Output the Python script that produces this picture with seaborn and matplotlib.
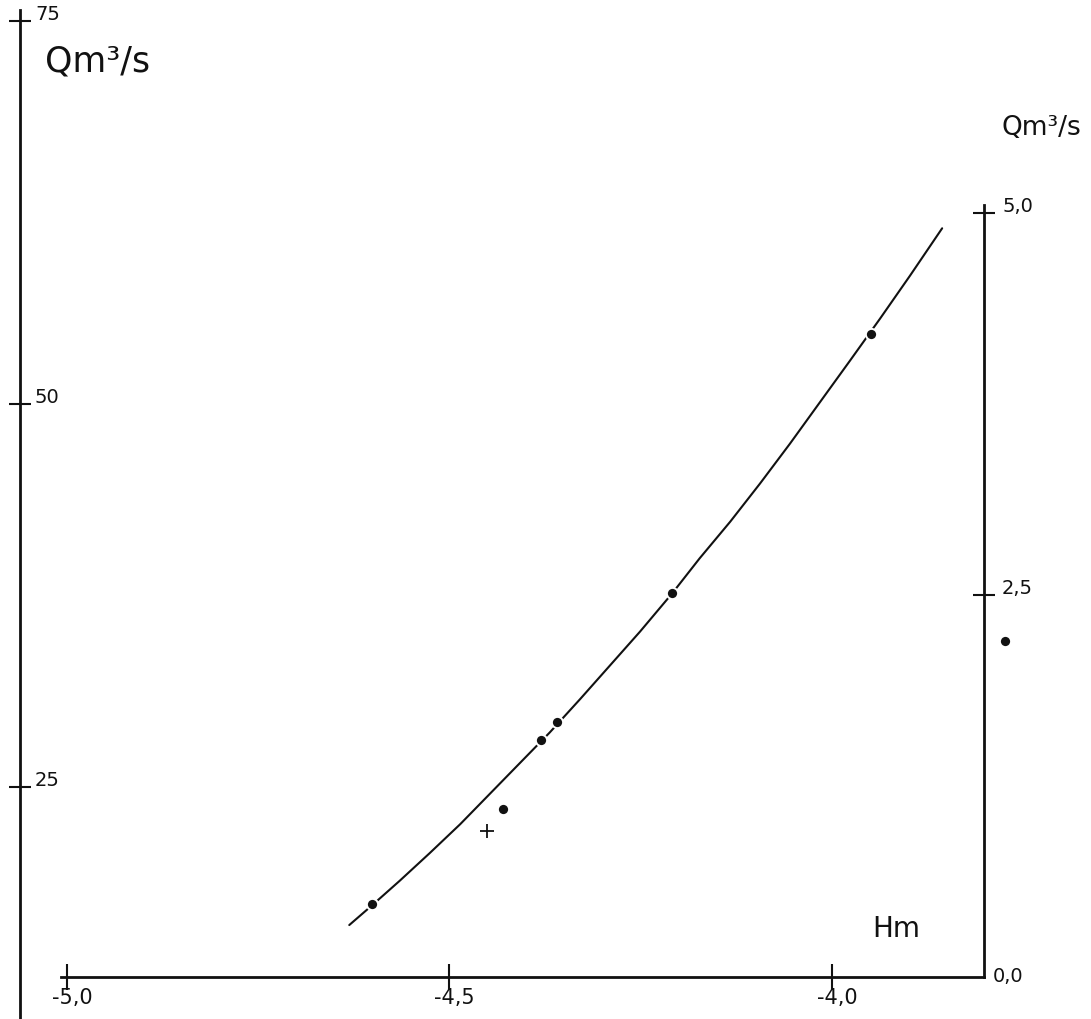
import matplotlib
matplotlib.use("Agg")
import matplotlib.pyplot as plt
import pandas as pd
import seaborn as sns

# Stage (H, m) and discharge (Q, m3/s) along the fitted rating curve
stage_curve = [-4.631, -4.601, -4.565, -4.526, -4.486, -4.447, -4.408,
               -4.369, -4.329, -4.290, -4.251, -4.209, -4.173, -4.133,
               -4.094, -4.055, -4.016, -3.977, -3.937, -3.898, -3.856]
discharge_curve = [0.34, 0.47, 0.63, 0.81, 1.00, 1.20, 1.40,
                   1.60, 1.82, 2.04, 2.26, 2.51, 2.74, 2.98,
                   3.23, 3.49, 3.76, 4.03, 4.31, 4.59, 4.90]

# Gauged measurements (dots)
stage_obs = [-4.601, -4.430, -4.380, -4.359, -4.209, -3.949, -3.774]
discharge_obs = [0.48, 1.10, 1.55, 1.67, 2.51, 4.21, 2.20]

# Doubtful measurement (cross)
stage_cross = [-4.451]
discharge_cross = [0.955]

# Axis ticks and their labels
x_ticks = [-5.0, -4.5, -4.0]
x_tick_labels = ["-5,0", "-4,5", "-4,0"]
left_ticks = [25, 50, 75]
left_tick_labels = ["25", "50", "75"]
right_ticks = [0.0, 2.5, 5.0]
right_tick_labels = ["0,0", "2,5", "5,0"]

curve = pd.DataFrame({"H": stage_curve, "Q": discharge_curve})
obs = pd.DataFrame({"H": stage_obs, "Q": discharge_obs})
cross = pd.DataFrame({"H": stage_cross, "Q": discharge_cross})

sns.set_style("ticks")
plt.rcParams["font.family"] = ["DejaVu Sans"]
ink = "#111111"

W, H = 1091, 1019
fig = plt.figure(figsize=(W / 100, H / 100), dpi=100)
ax = fig.add_axes([20 / W, 42 / H, 964 / W, 977 / H])
ax.set_xlim(-5.0614, -3.8013)
ax.set_ylim(12.60, 76.37)
ax2 = ax.twinx()
ax2.set_ylim(0, 6.394)

# Hand-ruled axes: left scale, bottom stage axis, right scale
for a in (ax, ax2):
    for s in a.spines.values():
        s.set_visible(False)
        s.set_linewidth(2.0)
        s.set_color(ink)
ax.spines["left"].set_visible(True)
ax.spines["left"].set_bounds(9.86, 75.7)
ax.spines["bottom"].set_visible(True)
ax.spines["bottom"].set_bounds(-5.008, -3.8013)
ax2.spines["right"].set_visible(True)
ax2.spines["right"].set_bounds(0, 5.05)

ax.set_xticks(x_ticks)
ax.set_yticks(left_ticks)
ax2.set_yticks(right_ticks[1:])
ax.tick_params(axis="x", direction="inout", length=19, width=1.5,
               colors=ink, labelbottom=False, bottom=True)
ax.tick_params(axis="y", direction="inout", length=16, width=1.5,
               colors=ink, labelleft=False, left=True, right=False)
ax2.tick_params(axis="y", direction="inout", length=16, width=1.5,
                colors=ink, labelright=False, right=True, left=False)

# Rating curve and measurements
sns.lineplot(data=curve, x="H", y="Q", ax=ax2, color=ink, linewidth=1.5,
             sort=False, estimator=None)
sns.scatterplot(data=obs, x="H", y="Q", ax=ax2, color=ink, s=65,
                edgecolor="white", linewidth=1.4, clip_on=False, zorder=5)
sns.scatterplot(data=cross, x="H", y="Q", ax=ax2, color=ink, marker="+",
                s=90, linewidth=1.3, zorder=5)
ax.set_xlabel("")
ax.set_ylabel("")
ax2.set_xlabel("")
ax2.set_ylabel("")

# Tick labels, lettered beside the ticks
for v, t in zip(x_ticks, x_tick_labels):
    ax.annotate(t, xy=(v, 0), xycoords=ax.get_xaxis_transform(),
                xytext=(5, -11), textcoords="offset pixels",
                ha="center", va="top", fontsize=15, color=ink)
for v, t in zip(left_ticks, left_tick_labels):
    ax.annotate(t, xy=(0, v), xycoords=ax.get_yaxis_transform(),
                xytext=(15, 1), textcoords="offset pixels",
                ha="left", va="baseline", fontsize=14, color=ink)
for v, t in zip(right_ticks, right_tick_labels):
    if v == 0:
        ax2.annotate(t, xy=(1, v), xycoords=ax2.get_yaxis_transform(),
                     xytext=(9, 0), textcoords="offset pixels",
                     ha="left", va="center", fontsize=14, color=ink)
    else:
        ax2.annotate(t, xy=(1, v), xycoords=ax2.get_yaxis_transform(),
                     xytext=(18, 1), textcoords="offset pixels",
                     ha="left", va="baseline", fontsize=14, color=ink)

# Axis titles
fig.text(45 / W, 1 - 72 / H, "Qm³/s", fontsize=25, color=ink,
         ha="left", va="baseline")
fig.text(1002 / W, 1 - 135 / H, "Qm³/s", fontsize=19, color=ink,
         ha="left", va="baseline")
fig.text(872 / W, 1 - 937 / H, "Hm", fontsize=20, color=ink,
         ha="left", va="baseline")

fig.savefig("out.png", dpi=100, facecolor="white")
